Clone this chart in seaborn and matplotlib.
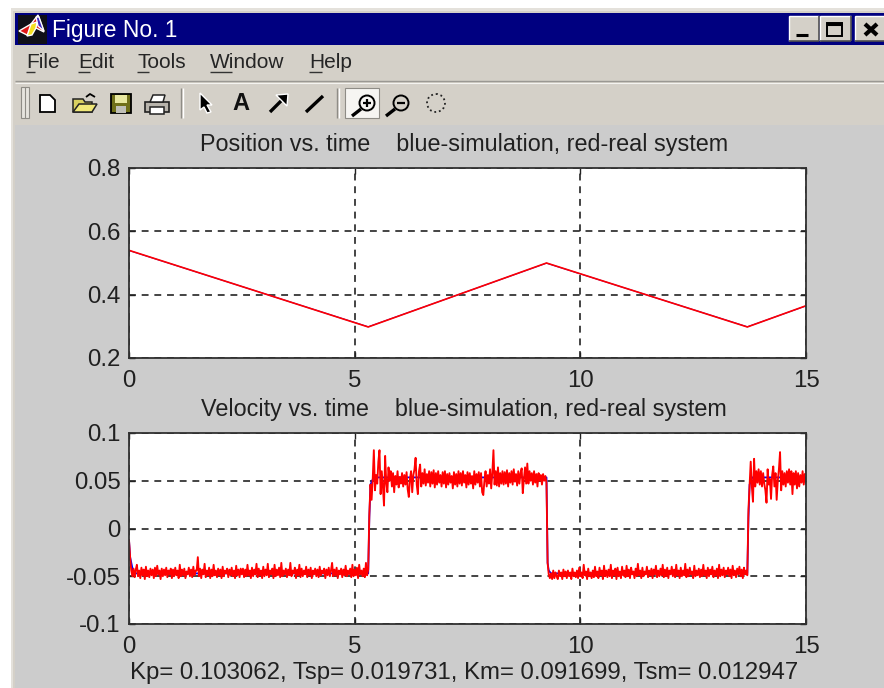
import numpy as np
import pandas as pd
import matplotlib
matplotlib.use("Agg")
import matplotlib.pyplot as plt
from matplotlib.patches import Rectangle, Polygon, Circle
import seaborn as sns

# ---- data -------------------------------------------------------------
pos_times = [0, 5.3, 9.25, 13.7, 15]
pos_real = [0.54, 0.298, 0.5, 0.298, 0.365]
pos_sim = [0.5395, 0.2985, 0.4995, 0.2985, 0.3645]

vel_step = 0.025
vel_seg1 = [
    -12, -30, -44, -50, -42, -51, -43, -38, -50, -44, -52, -41, -49, -43, -53, -40, -50, -44, -51, -42,
    -49, -43, -52, -41, -50, -39, -48, -44, -53, -42, -50, -43, -49, -41, -51, -44, -48, -42, -52, -43,
    -50, -41, -49, -44, -52, -38, -50, -43, -49, -42, -52, -45, -48, -41, -50, -43, -51, -40, -49, -44,
    -44, -30, -50, -42, -52, -43, -48, -37, -51, -44, -49, -41, -52, -43, -50, -38, -49, -44, -51, -42,
    -49, -43, -52, -40, -50, -44, -47, -42, -51, -43, -49, -41, -50, -44, -52, -39, -49, -43, -51, -42,
    -48, -42, -51, -43, -50, -38, -49, -44, -52, -41, -50, -43, -48, -37, -51, -42, -49, -44, -52, -40,
    -50, -43, -49, -37, -51, -44, -48, -42, -52, -38, -50, -43, -49, -41, -51, -36, -50, -44, -48, -42,
    -51, -43, -49, -36, -50, -44, -47, -41, -52, -43, -49, -38, -51, -42, -50, -44, -48, -40, -51, -43,
    -49, -41, -52, -44, -48, -42, -50, -43, -51, -40, -49, -44, -47, -42, -52, -43, -49, -41, -50, -44,
    -36, -50, -43, -49, -41, -52, -44, -48, -42, -51, -43, -49, -39, -50, -44, -48, -42, -51, -38, -50,
    -43, -49, -41, -52, -38, -48, -44, -50, -42, -51, -36, -49, -43,
]
vel_seg2 = [
    15, 46, 30, 52, 82, 40, 56, 47, 70, 82, 36, 60, 44, 24, 76, 48, 38, 64, 50, 60,
    44, 58, 38, 55, 46, 60, 43, 54, 47, 58, 44, 56, 46, 59, 41, 33, 52, 60, 38, 56,
    62, 74, 46, 36, 60, 67, 44, 58, 47, 62, 45, 57, 48, 60, 44, 59, 47, 61, 43, 58,
    46, 60, 48, 56, 44, 59, 47, 60, 43, 57, 46, 58, 48, 55, 42, 59, 46, 57, 44, 60,
    47, 58, 45, 60, 48, 56, 43, 59, 46, 58, 47, 55, 42, 60, 46, 57, 48, 59, 44, 58,
    38, 35, 50, 60, 44, 56, 47, 62, 42, 58, 82, 46, 60, 45, 64, 44, 58, 47, 60, 46,
    59, 47, 61, 44, 58, 48, 60, 46, 62, 49, 57, 45, 60, 47, 58, 63, 37, 52, 64, 47,
    68, 47, 60, 50, 58, 46, 60, 48, 57, 44, 58, 50, 56, 46, 57, 50, 55, 48,
]
vel_seg3 = [
    -36, -48, -52, -47, -53, -44, -52, -46, -50, -53, -44, -50, -46, -53, -43, -50, -45, -52, -44, -50,
    -46, -53, -42, -50, -46, -51, -44, -52, -41, -50, -46, -52, -38, -49, -45, -53, -42, -50, -46, -52,
    -44, -51, -40, -50, -45, -52, -41, -49, -44, -53, -39, -50, -44, -51, -43, -50, -38, -52, -44, -49,
    -42, -53, -41, -50, -45, -52, -40, -49, -44, -51, -39, -50, -43, -52, -41, -48, -45, -52, -42, -50,
    -37, -49, -44, -52, -41, -50, -45, -48, -40, -51, -44, -49, -42, -52, -43, -48, -39, -51, -44, -50,
    -42, -49, -38, -51, -43, -50, -41, -52, -44, -48, -40, -50, -43, -51, -38, -49, -44, -52, -41, -50,
    -44, -49, -37, -51, -43, -50, -41, -48, -45, -52, -39, -50, -44, -49, -42, -51, -43, -50, -38, -49,
    -44, -52, -41, -50, -43, -48, -40, -51, -44, -49, -42, -52, -38, -50, -43, -49, -41, -51, -44, -48,
    -41, -50, -43, -52, -39, -49, -44, -51, -42, -48, -40, -50, -43, -52, -41, -48, -44, -49,
]
vel_seg4 = [
    20, 46, 70, 44, 28, 73, 44, 60, 48, 62, 46,
    60, 44, 58, 47, 40, 27, 62, 46, 52, 31, 56, 65, 44, 58, 30, 50, 62, 80, 40,
    60, 46, 58, 44, 60, 48, 62, 46, 60, 36, 58, 46, 60, 42, 58, 44, 56, 48, 60, 46,
    57, 58,
]
sim_times = [0, 0.025, 0.1, 5.3, 5.325, 5.33, 5.35, 5.42, 9.25, 9.275,
             9.3, 9.35, 13.7, 13.725, 13.73, 13.75, 13.81, 15]
sim_vel = [-0.012, -0.030, -0.047, -0.047, 0.012, 0.018, 0.046, 0.0535, 0.0535, -0.036,
           -0.044, -0.047, -0.047, 0.012, 0.018, 0.046, 0.0535, 0.0535]

top_title = "Position vs. time    blue-simulation, red-real system"
bot_title = "Velocity vs. time    blue-simulation, red-real system"
bot_label = "Kp= 0.103062, Tsp= 0.019731, Km= 0.091699, Tsm= 0.012947"
x_ticks = [0, 5, 10, 15]
top_yticks = [0.2, 0.4, 0.6, 0.8]
top_ylabels = ["0.2", "0.4", "0.6", "0.8"]
bot_yticks = [-0.1, -0.05, 0, 0.05, 0.1]
bot_ylabels = ["-0.1", "-0.05", "0", "0.05", "0.1"]
menu_items = ["File", "Edit", "Tools", "Window", "Help"]
menu_x = [26, 78, 137, 210, 309]
menu_under = [(26, 35), (78, 90), (137, 149), (210, 232), (309, 322)]
window_title = "Figure No. 1"

assert len(vel_seg1) == 213 and len(vel_seg2) == 158
assert len(vel_seg3) == 178 and len(vel_seg4) == 52
vel_real = np.array(vel_seg1 + vel_seg2 + vel_seg3 + vel_seg4) / 1000.0
vel_times = np.arange(len(vel_real)) * vel_step

# ---- theme ------------------------------------------------------------
sns.set_theme(style="white")
plt.rcParams["font.family"] = ["Liberation Sans", "DejaVu Sans"]
plt.rcParams["axes.unicode_minus"] = False

W, H = 884, 688
fig = plt.figure(figsize=(W / 100, H / 100), dpi=100, facecolor="white")

# ---- window chrome (pixel coordinates) --------------------------------
ch = fig.add_axes([0, 0, 1, 1], zorder=0)
ch.set_xlim(0, W)
ch.set_ylim(H, 0)
ch.axis("off")
PANEL = "#D4D0C8"
FIG = "#CCCCCC"


def rect(x0, y0, x1, y1, fc, ec="none", lw=0, z=1):
    ch.add_patch(Rectangle((x0, y0), x1 - x0, y1 - y0, fc=fc, ec=ec, lw=lw, zorder=z))


def seg(xs, ys, c="black", lw=1.5, z=3, **kw):
    ch.plot(xs, ys, color=c, lw=lw, zorder=z, solid_capstyle="butt", **kw)


rect(11, 8, W, H, "#E4E1DB")
rect(13, 11, W, H, PANEL)
rect(15, 13, W, 45, "#000080")
rect(15, 125, W, H, FIG)
seg([15, W], [81, 81], "#9A9893", 1.0)
seg([15, W], [83, 83], "#F4F3F0", 0.8)

# title bar icon and text
rect(18, 15, 47, 44, "#101018", z=2)
ch.add_patch(Polygon([[19, 31], [31, 24], [38, 15], [44, 32], [34, 27], [27, 35]], fc="#E01818", zorder=3))
ch.add_patch(Polygon([[27, 36], [31, 24], [37, 22], [36, 28], [32, 35]], fc="#F5E020", zorder=4))
ch.add_patch(Polygon([[36, 17], [39, 17], [44, 31], [38, 26]], fc="#4028C0", zorder=4))
ch.text(52, 30, window_title, color="white", fontsize=16.4, va="center", ha="left", zorder=5)

# title bar buttons
for x0, x1 in [(789, 819), (820, 851), (855, 885)]:
    rect(x0, 16, x1, 41, PANEL, z=2)
    seg([x0, x1], [16, 16], "white", 1.0)
    seg([x0, x0], [16, 41], "white", 1.0)
    seg([x0, x1], [41, 41], "#505050", 1.2)
    seg([x1, x1], [16, 41], "#505050", 1.2)
seg([796, 808], [35, 35], "black", 2.2)
rect(827, 23, 842, 36, "none", ec="black", lw=1.4, z=3)
seg([827, 842], [23.5, 23.5], "black", 2.2)
seg([865, 877], [24, 35], "black", 3)
seg([865, 877], [35, 24], "black", 3)

# menu
for label, x, (u0, u1) in zip(menu_items, menu_x, menu_under):
    ch.text(x, 63, label, fontsize=15, color="#252525", va="center", ha="left", zorder=5)
    seg([u0, u1], [72, 72], "#333333", 1.0)

# toolbar
rect(21, 87, 29, 118, "#E6E4DE", ec="#8E8C86", lw=0.8, z=2)
seg([25, 25], [87, 118], "#8E8C86", 0.8)
for sx in [181, 337]:
    seg([sx, sx], [88, 118], "#8E8C86", 1.0)
    seg([sx + 1.5, sx + 1.5], [88, 118], "#FFFFFF", 1.0)
ch.add_patch(Polygon([[40, 95], [50, 95], [55, 100], [55, 112], [40, 112]], fc="white", ec="black", lw=1.3, zorder=3))
ch.add_patch(Polygon([[73, 112], [73, 99], [83, 99], [85, 102], [92, 102], [92, 112]], fc="#D8D060", ec="#222222", lw=1.1, zorder=3))
ch.add_patch(Polygon([[73, 112], [79, 104], [97, 104], [92, 112]], fc="#F0E878", ec="#222222", lw=1.1, zorder=4))
seg([86, 90, 95], [97, 94, 97], "black", 1.3)
rect(111, 94, 131, 113, "#70701A", ec="black", lw=1.3, z=3)
rect(115, 95, 127, 103, "#E8E8A0", z=4)
rect(116, 106, 126, 113, "#C0C0B8", z=4)
rect(145, 102, 169, 112, "#B8B4AC", ec="#222222", lw=1.2, z=3)
ch.add_patch(Polygon([[150, 102], [153, 95], [165, 95], [163, 102]], fc="white", ec="#222222", lw=1.1, zorder=4))
rect(150, 107, 164, 114, "white", ec="#222222", lw=1.1, z=4)
ch.add_patch(Polygon([[200, 93], [212, 105], [207, 105], [211, 112], [207, 113], [204, 107], [200, 110]], fc="black", zorder=3))
ch.text(241, 103, "A", fontsize=17, fontweight="bold", color="#111111", ha="center", va="center", zorder=3)
seg([270, 286], [112, 96], "black", 2.4)
ch.add_patch(Polygon([[276, 95], [288, 94], [287, 106]], fc="black", zorder=3))
seg([306, 323], [112, 96], "black", 2.4)
rect(345, 88, 379, 118, "#F6F5F2", ec="#8E8C86", lw=0.8, z=2)
for cx, sign in [(367, True), (401, False)]:
    ch.add_patch(Circle((cx, 103), 7.5, fc="none", ec="black", lw=1.4, zorder=3))
    seg([cx - 6, cx - 15], [109, 116], "black", 2.4)
    seg([cx - 4, cx + 4], [103, 103], "black", 1.6)
    if sign:
        seg([cx, cx], [99, 107], "black", 1.6)
ch.add_patch(Circle((436, 103), 9, fc="none", ec="#222222", lw=1.3, ls=(0, (1, 1.6)), zorder=3))


# ---- plots ------------------------------------------------------------
def make_axes(y0, y1):
    x0, x1 = 129, 806
    return fig.add_axes([x0 / W, 1 - y1 / H, (x1 - x0) / W, (y1 - y0) / H], zorder=2, facecolor="white")


def style(ax, yticks, ylabels, ylim, title):
    ax.set_xlim(0, 15)
    ax.set_ylim(*ylim)
    ax.set_xticks(x_ticks, [str(v) for v in x_ticks])
    ax.set_yticks(yticks, ylabels)
    ax.tick_params(axis="both", direction="in", length=4, width=1.0, color="#222222",
                   labelsize=17.3, labelcolor="#202020", top=True, right=True,
                   bottom=True, left=True)
    ax.tick_params(axis="x", pad=8.5)
    ax.tick_params(axis="y", pad=6)
    ax.grid(True, color="#111111", lw=1.1, ls=(0, (4.5, 3.8)))
    ax.set_axisbelow(True)
    for s in ax.spines.values():
        s.set_color("#303030")
        s.set_linewidth(1.3)
        s.set_zorder(5)
    ax.set_xlabel("")
    ax.set_ylabel("")
    ax.set_title(title, fontsize=16.8, color="#202020", pad=12, x=0.495)


ax1 = make_axes(168, 358)
pos_df = pd.DataFrame({"t": pos_times, "sim": pos_sim, "real": pos_real})
sns.lineplot(data=pos_df, x="t", y="sim", ax=ax1, color="#0000FF", lw=0.8, estimator=None, sort=False)
sns.lineplot(data=pos_df, x="t", y="real", ax=ax1, color="#FF0000", lw=1.2, estimator=None, sort=False)
style(ax1, top_yticks, top_ylabels, (0.2, 0.8), top_title)

ax2 = make_axes(433, 624)
sim_df = pd.DataFrame({"t": sim_times, "v": sim_vel})
real_df = pd.DataFrame({"t": vel_times, "v": vel_real})
sns.lineplot(data=sim_df, x="t", y="v", ax=ax2, color="#0000FF", lw=1.3, estimator=None, sort=False)
sns.lineplot(data=real_df, x="t", y="v", ax=ax2, color="#FF0000", lw=1.35, estimator=None, sort=False)
style(ax2, bot_yticks, bot_ylabels, (-0.1, 0.1), bot_title)
ax2.set_xlabel(bot_label, fontsize=17.3, color="#202020", labelpad=3, x=0.495)

fig.savefig("out.png", dpi=100, facecolor="white")
